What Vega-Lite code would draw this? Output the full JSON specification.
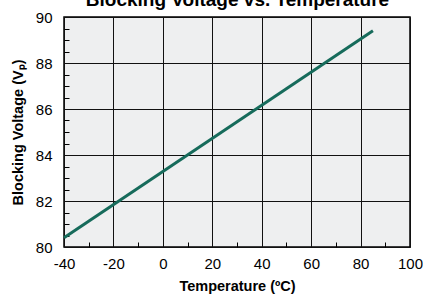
{
  "$schema": "https://vega.github.io/schema/vega-lite/v6.json",
  "width": 346,
  "height": 230,
  "autosize": {"type": "none"},
  "padding": {"left": 64, "top": 17, "right": 13, "bottom": 48},
  "background": "white",
  "config": {
    "view": {"fill": "#eeeff0", "stroke": "black", "strokeWidth": 1.5},
    "axis": {"labelFont": "Liberation Sans", "titleFont": "Liberation Sans", "labelColor": "black", "titleColor": "black"}
  },
  "data": {"values": [{"t": -40, "v": 80.4}, {"t": 85, "v": 89.4}]},
  "layer": [
    {
      "mark": {"type": "line", "color": "#166b5b", "strokeWidth": 3},
      "encoding": {
        "x": {"field": "t", "type": "quantitative", "scale": {"domain": [-40, 100], "nice": false},
          "axis": {"orient": "bottom", "values": [-40, -20, 0, 20, 40, 60, 80, 100], "labelExpr": "'' + datum.value", "grid": true, "gridColor": "#111", "gridOpacity": 1, "gridWidth": 1, "ticks": false, "domain": false, "labelFontSize": 15, "labelPadding": 9, "title": "Temperature (ºC)", "titleFontSize": 14.5, "titleFontWeight": "bold", "titlePadding": 8, "labelFlush": false}},
        "y": {"field": "v", "type": "quantitative", "scale": {"domain": [80, 90], "nice": false, "zero": false},
          "axis": {"orient": "left", "values": [80, 82, 84, 86, 88, 90], "grid": true, "gridColor": "#111", "gridOpacity": 1, "gridWidth": 1, "ticks": false, "domain": false, "labelFontSize": 15, "labelPadding": 12, "title": "Blocking Voltage (Vₚ)", "titleFontSize": 14.5, "titleFontWeight": "bold", "titlePadding": 10, "labelFlush": false}}
      }
    },
    {
      "mark": {"type": "line", "opacity": 0},
      "encoding": {
        "x": {"field": "t", "type": "quantitative",
          "axis": {"orient": "bottom", "values": [-30, -10, 10, 30, 50, 70, 90], "grid": false, "labels": false, "domain": false, "ticks": true, "tickSize": -5, "tickColor": "black", "tickWidth": 1, "title": null}},
        "y": {"field": "v", "type": "quantitative",
          "axis": {"orient": "left", "values": [80.5, 81, 81.5, 82.5, 83, 83.5, 84.5, 85, 85.5, 86.5, 87, 87.5, 88.5, 89, 89.5], "grid": false, "labels": false, "domain": false, "ticks": true, "tickSize": -5, "tickColor": "black", "tickWidth": 1, "title": null}}
      }
    },
    {
      "mark": {"type": "line", "opacity": 0},
      "encoding": {
        "x": {"field": "t", "type": "quantitative",
          "axis": {"orient": "top", "values": [], "grid": false, "labels": false, "domain": false, "ticks": false, "title": "Blocking Voltage vs. Temperature", "titleFontSize": 19, "titleFontWeight": "bold", "titleX": 173, "titleY": -12, "titleAnchor": "middle", "titleAlign": "center", "titleBaseline": "alphabetic"}},
        "y": {"field": "v", "type": "quantitative", "axis": null}
      }
    }
  ],
  "resolve": {"axis": {"x": "independent", "y": "independent"}}
}
